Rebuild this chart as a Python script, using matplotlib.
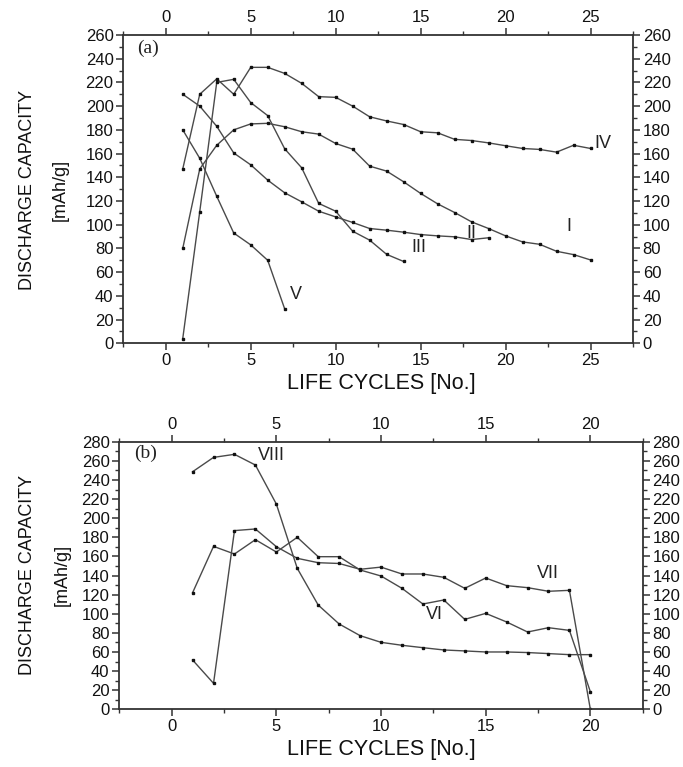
import matplotlib
matplotlib.use('Agg')
import matplotlib.pyplot as plt
from matplotlib.ticker import MultipleLocator

plt.rcParams['font.family'] = ['Liberation Sans', 'DejaVu Sans']

# ---------------- Panel (a) data ----------------
cycles_I = list(range(1, 26))
cap_I = [80, 147, 167, 180, 185, 185.5, 182.6, 178.4, 176.4, 168.5, 163.7, 149.4,
         145.2, 136.2, 126.4, 117.6, 110.3, 102.4, 96.8, 90.6, 85.5, 83.5, 77.6, 74.8, 70.3]

cycles_II = list(range(1, 20))
cap_II = [210, 200, 183, 160.5, 150.5, 137.6, 126.9, 119.3, 111.4, 106.6, 101.9,
          96.8, 95.4, 93.7, 91.7, 90.6, 89.8, 87.5, 89]

cycles_III = list(range(1, 15))
cap_III = [4, 111, 220, 222.6, 203, 192, 164, 148, 118, 111.4, 94.5, 87, 75, 69]

cycles_IV = list(range(1, 26))
cap_IV = [147, 210, 223, 210, 232.7, 232.7, 227.6, 219.2, 208, 207.4, 200, 191,
          187.5, 184.5, 178.4, 177.5, 172, 171, 169, 166.6, 164.3, 163.5, 161.2, 167, 164.3]

cycles_V = list(range(1, 8))
cap_V = [180, 156, 124, 93, 83, 70, 29]

# ---------------- Panel (b) data ----------------
cycles_VI = list(range(1, 21))
cap_VI = [122, 170.5, 162.5, 177.5, 164.6, 180, 159.7, 159.7, 145.8, 139.5, 126.6,
          110.2, 114.4, 94.1, 100.4, 91.4, 80.9, 85.4, 82.6, 18.4]

cycles_VII = list(range(1, 21))
cap_VII = [51.6, 27.2, 187, 188.7, 170.2, 158, 153.4, 152.6, 146.5, 148.8, 141.6,
           141.6, 138.1, 126.6, 137.4, 129.4, 127.3, 123.5, 124.5, 0]

cycles_VIII = list(range(1, 21))
cap_VIII = [248.6, 263.6, 266.8, 255.6, 214.8, 147.5, 109.1, 89.3, 77.1, 70.1, 67,
            64.5, 62.1, 61.1, 60, 60, 59.4, 58.3, 57.2, 57.2]

xticks_a = [0, 5, 10, 15, 20, 25]
yticks_a = list(range(0, 261, 20))
xticks_b = [0, 5, 10, 15, 20]
yticks_b = list(range(0, 281, 20))

LINE = '#4a4a4a'

fig = plt.figure(figsize=(6.83, 7.67), dpi=100)
ax1 = fig.add_axes([0.1805, 0.5524, 0.7463, 0.402])
ax2 = fig.add_axes([0.1747, 0.0752, 0.7663, 0.3489])


def style(ax, xlim, ylim, xt, yt):
    ax.set_xlim(*xlim)
    ax.set_ylim(*ylim)
    ax.set_xticks(xt)
    ax.set_yticks(yt)
    ax.xaxis.set_minor_locator(MultipleLocator(2.5))
    ax.yaxis.set_minor_locator(MultipleLocator(10))
    ax.tick_params(which='both', direction='out', top=True, right=True,
                   labeltop=True, labelright=True, color='#333333',
                   labelsize=12, labelcolor='#111111')
    ax.tick_params(which='major', length=5, width=1.1, pad=2)
    ax.tick_params(which='minor', length=3, width=1.0)
    for s in ax.spines.values():
        s.set_linewidth(1.3)
        s.set_color('#333333')


def plot_series(ax, x, y):
    ax.plot(x, y, '-', color=LINE, lw=1.0, marker='s', ms=1.6,
            mfc='#111111', mec='#111111')


for x, y in [(cycles_I, cap_I), (cycles_II, cap_II), (cycles_III, cap_III),
             (cycles_IV, cap_IV), (cycles_V, cap_V)]:
    plot_series(ax1, x, y)
style(ax1, (-2.5, 27.5), (0, 260), xticks_a, yticks_a)

for x, y in [(cycles_VI, cap_VI), (cycles_VII, cap_VII), (cycles_VIII, cap_VIII)]:
    plot_series(ax2, x, y)
style(ax2, (-2.5, 22.5), (0, 280), xticks_b, yticks_b)

# series labels
lab_kw = dict(fontsize=13, color='#222222', ha='center', va='center')
ax1.text(25.7, 168.6, 'IV', **lab_kw)
ax1.text(23.7, 98.8, 'I', **lab_kw)
ax1.text(18.0, 93, 'II', **lab_kw)
ax1.text(14.9, 80.5, 'III', **lab_kw)
ax1.text(7.65, 41.4, 'V', **lab_kw)
ax1.text(-1.05, 249, '(a)', fontsize=14, ha='center', va='center',
         family=['Liberation Serif', 'DejaVu Serif'], color='#222222')

ax2.text(4.76, 266, 'VIII', **lab_kw)
ax2.text(17.98, 142.3, 'VII', **lab_kw)
ax2.text(12.54, 98.7, 'VI', **lab_kw)
ax2.text(-1.27, 268, '(b)', fontsize=14, ha='center', va='center',
         family=['Liberation Serif', 'DejaVu Serif'], color='#222222')

# axis titles
H, W = 767.0, 683.0
tx = dict(fontsize=15.5, color='#111111', ha='center', va='center')
ty = dict(fontsize=13, color='#111111', ha='center', va='center', rotation=90)
fig.text(381 / W, 1 - 383 / H, 'LIFE CYCLES [No.]', **tx)
fig.text(381 / W, 1 - 750 / H, 'LIFE CYCLES [No.]', **tx)
fig.text(28 / W, 1 - 190 / H, 'DISCHARGE CAPACITY', **ty)
fig.text(60 / W, 1 - 190 / H, '[mAh/g]', **ty)
fig.text(28 / W, 1 - 575 / H, 'DISCHARGE CAPACITY', **ty)
fig.text(62 / W, 1 - 575 / H, '[mAh/g]', **ty)

fig.savefig('out.png', dpi=100)
